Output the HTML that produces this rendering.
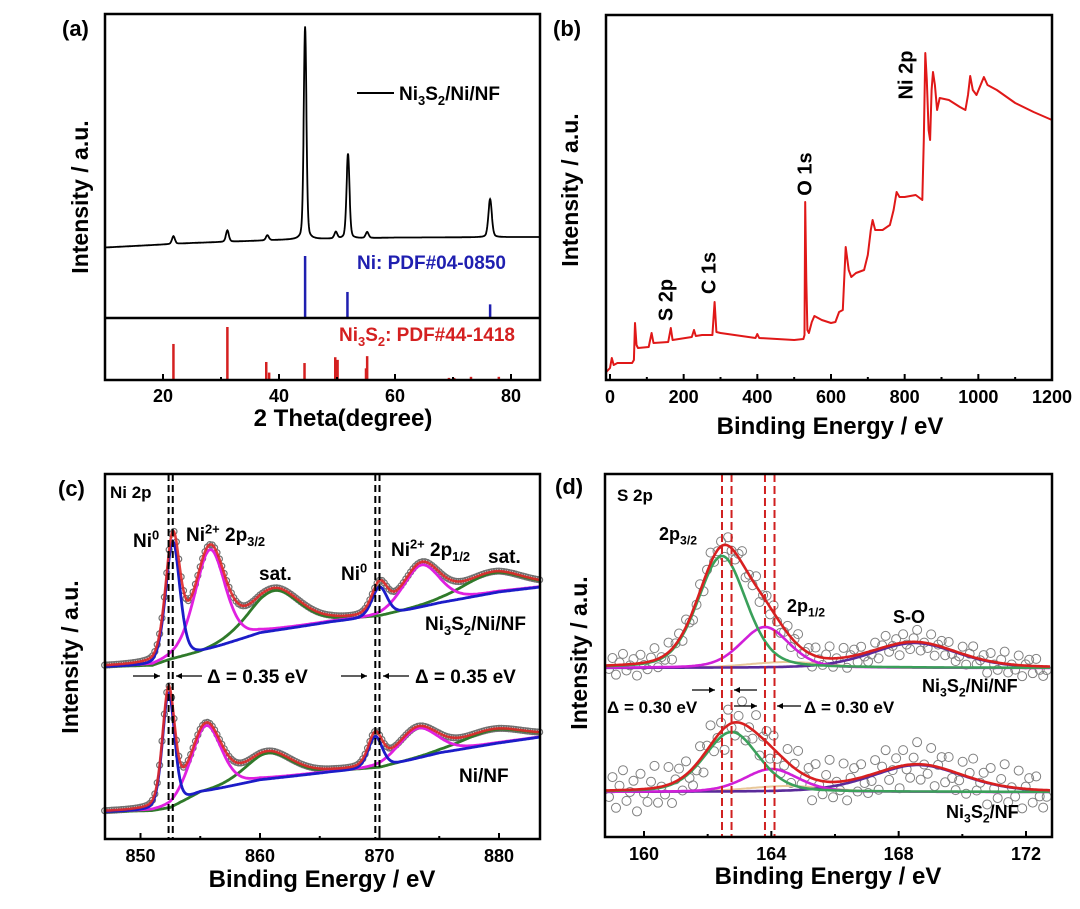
<!DOCTYPE html>
<html><head><meta charset="utf-8">
<style>
html,body{margin:0;padding:0;background:#fff;}
svg{display:block;font-family:"Liberation Sans",Arial,sans-serif;font-weight:bold;}
</style></head>
<body>
<svg id="fig" width="1080" height="909" viewBox="0 0 1080 909" xmlns="http://www.w3.org/2000/svg"></svg>
<script>
// ---------- Panel (a) XRD data ----------
const xrdBgX = [10, 25, 40, 60, 85];
const xrdBgV = [23.5, 25, 26, 26.8, 27];
const xrdPeakPos = [21.8, 31.1, 38.0, 44.5, 49.8, 51.9, 55.2, 76.4];
const xrdPeakInt = [2.6, 3.8, 1.7, 71, 2.2, 28.3, 2.0, 12.7];
const xrdPeakW = [0.6, 0.6, 0.6, 0.55, 0.6, 0.6, 0.6, 0.7];
const niRefPos = [44.5, 51.8, 76.4];
const niRefInt = [100, 42, 22];
const ni3s2RefPos = [21.8, 31.1, 37.8, 38.3, 44.4, 49.7, 50.1, 55.0, 55.2, 69.3, 70.2, 73.1, 77.9];
const ni3s2RefInt = [68, 100, 34, 14, 32, 43, 38, 22, 45, 4, 4, 6, 6];
const aTicks = [20, 40, 60, 80];

// ---------- Panel (b) XPS survey ----------
const surveyE = [-10,0,5,10,20,60,65,68,72,76,105,113,118,158,165,170,222,228,233,250,278,284,289,300,395,400,405,500,525,528,530,533,536,540,548,555,575,600,612,622,632,640,648,655,668,690,700,708,713,720,740,760,770,778,786,800,830,848,852,856,860,865,869,873,877,882,888,895,920,950,965,972,978,985,995,1015,1025,1050,1100,1150,1200];
const surveyI = [8,12,22,15,17,17,20,57,35,32,33,47,37,38,52,40,43,50,44,45,45,78,48,47,42,46,42,40,41,45,178,100,50,47,58,64,60,57,58,68,70,133,110,103,107,110,125,150,160,150,150,155,170,188,183,183,185,180,240,327,300,250,240,290,308,295,270,282,280,273,270,285,304,290,285,303,295,290,277,268,260];
const bTicks = [0, 200, 400, 600, 800, 1000, 1200];

// ---------- Panel (c) Ni 2p ----------
const cBgE = [847, 851, 852.5, 855, 860, 866, 870, 875, 880, 883.5];
const cTopBg = [172, 173, 179, 186, 206, 217, 222, 236, 247, 252];
const cBotBg = [27, 28, 31, 46, 59, 67, 71, 86, 96, 102];
const cPeakKind = ["ni0", "ni2", "sat", "ni0", "ni2", "sat"];
const cTopCenter = [852.7, 855.8, 861.2, 870.0, 873.5, 879.5];
const cTopHeight = [118, 100, 40, 30, 42, 20];
const cTopWidth = [1.4, 3.0, 5.0, 1.5, 3.6, 6.0];
const cBotCenter = [852.35, 855.5, 860.7, 869.65, 873.2, 879.5];
const cBotHeight = [116, 66, 26, 32, 30, 14];
const cBotWidth = [1.2, 3.0, 4.6, 1.4, 3.8, 6.0];
const cDashE = [852.35, 852.7, 869.65, 870.0];
const cTicks = [850, 860, 870, 880];

// ---------- Panel (d) S 2p ----------
const dKind = ["p32", "p12", "so"];
const dTopBase = 169;
const dTopCenter = [162.45, 163.8, 168.5];
const dTopHeight = [112, 41, 25];
const dTopWidth = [1.8, 1.8, 3.2];
const dBotBase = 45;
const dBotCenter = [162.75, 164.0, 168.6];
const dBotHeight = [60, 23, 27];
const dBotWidth = [2.0, 2.0, 3.4];
const dScatter = [3,-6,8,-2,-9,5,1,-4,10,-7,2,6,-3,-10,7,0,4,-8,9,-1,-5,6,-6,3,8];
const dDashE = [162.45, 162.75, 163.8, 164.1];
const dTicks = [160, 164, 168, 172];

// ---------- helpers ----------
const NS = "http://www.w3.org/2000/svg";
const fig = document.getElementById("fig");
function mk(tag, attrs, parent) {
  const el = document.createElementNS(NS, tag);
  for (const k in attrs) el.setAttribute(k, attrs[k]);
  (parent || fig).appendChild(el);
  return el;
}
function lin(d0, d1, r0, r1) { return v => r0 + (v - d0) * (r1 - r0) / (d1 - d0); }
function interp(xs, ys, x) {
  if (x <= xs[0]) return ys[0];
  for (let i = 1; i < xs.length; i++) if (x <= xs[i]) return ys[i-1] + (ys[i]-ys[i-1])*(x-xs[i-1])/(xs[i]-xs[i-1]);
  return ys[ys.length-1];
}
function pv(x, c, h, w) {
  const t = (x - c) / w;
  return h * (0.7 * Math.exp(-4 * Math.LN2 * t * t) + 0.3 / (1 + 4 * t * t));
}
function pathFrom(pts) { return "M" + pts.map(p => p[0].toFixed(1) + "," + p[1].toFixed(1)).join("L"); }
function text(str, x, y, size, attrs, parent) {
  const t = mk("text", Object.assign({x: x, y: y, "font-size": size}, attrs || {}), parent);
  t.textContent = str;
  return t;
}
function richText(parts, x, y, size, attrs, parent) {
  const t = mk("text", Object.assign({x: x, y: y, "font-size": size}, attrs || {}), parent);
  parts.forEach(p => {
    const s = document.createElementNS(NS, "tspan");
    s.textContent = p[0];
    if (p[1] === "sub") { s.setAttribute("font-size", size * 0.68); s.setAttribute("dy", size * 0.25); }
    else if (p[1] === "sup") { s.setAttribute("font-size", size * 0.68); s.setAttribute("dy", -size * 0.4); }
    else if (p[1] === "subend") { s.setAttribute("dy", -size * 0.25); }
    else if (p[1] === "supend") { s.setAttribute("dy", size * 0.4); }
    t.appendChild(s);
  });
  return t;
}
function frame(x0, y0, x1, y1, name) {
  const r = mk("rect", {x: x0, y: y0, width: x1 - x0, height: y1 - y0, fill: "none", stroke: "#000", "stroke-width": 2.5});
  
  
}
function xTicks(ticks, minorStep, xs, yb, prefix, xmin, xmax, labelY) {
  const g = mk("g", {});
  
  
  for (let v = Math.ceil(xmin / minorStep) * minorStep; v <= xmax; v += minorStep) {
    const major = ticks.indexOf(Math.round(v * 100) / 100) >= 0;
    const l = mk("line", {x1: xs(v), x2: xs(v), y1: yb, y2: yb - (major ? 6 : 3), stroke: "#000", "stroke-width": 2}, g);
    
    
  }
  ticks.forEach(v => {
    const t = text(String(v), xs(v), labelY, 18, {"text-anchor": "middle"}, g);
    
    
  });
}
function yTitle(x, y, name) {
  const t = text("Intensity / a.u.", x, y, 23, {"text-anchor": "middle", transform: "rotate(-90 " + x + " " + y + ")", "dominant-baseline": "middle"});
  
  
}

// ================= Panel (a) =================
(function () {
  const X0 = 105, X1 = 540, Y0 = 14, YD = 318, Y1 = 380;
  const xs = lin(10, 85, X0, X1);
  const ysTop = lin(0, 100, YD, YD - 300);
  const ysNi = lin(0, 100, YD, YD - 62);
  const ysNs = lin(0, 100, Y1, Y1 - 53);
  const pts = [];
  for (let x = 10; x <= 85; x += 0.05) {
    let v = interp(xrdBgX, xrdBgV, x);
    for (let i = 0; i < xrdPeakPos.length; i++) v += pv(x, xrdPeakPos[i], xrdPeakInt[i], xrdPeakW[i]);
    pts.push([xs(x), ysTop(v)]);
  }
  const p = mk("path", {d: pathFrom(pts), fill: "none", stroke: "#000", "stroke-width": 1.8});
  
  
  niRefPos.forEach((x, i) => {
    const l = mk("line", {x1: xs(x), x2: xs(x), y1: YD, y2: ysNi(niRefInt[i]), stroke: "#1f1fb0", "stroke-width": 2.5});
    
    
  });
  ni3s2RefPos.forEach((x, i) => {
    const l = mk("line", {x1: xs(x), x2: xs(x), y1: Y1, y2: ysNs(ni3s2RefInt[i]), stroke: "#d42020", "stroke-width": 2.5});
    
    
  });
  const dv = mk("line", {x1: X0, x2: X1, y1: YD, y2: YD, stroke: "#000", "stroke-width": 2.5});
  
  
  frame(X0, Y0, X1, Y1, "panel-a-frame");
  xTicks(aTicks, 10, xs, Y1, "panel-a", 10, 85, 402);
  const ll = mk("line", {x1: 357, x2: 394, y1: 93, y2: 93, stroke: "#000", "stroke-width": 2});
  
  
  const lt = richText([["Ni"], ["3", "sub"], ["S", "subend"], ["2", "sub"], ["/Ni/NF", "subend"]], 399, 100, 19, {});
  
  
  const nl = text("Ni: PDF#04-0850", 357, 269, 19, {fill: "#1f1fb0"});
  
  
  const sl = richText([["Ni"], ["3", "sub"], ["S", "subend"], ["2", "sub"], [": PDF#44-1418", "subend"]], 339, 341, 19, {fill: "#d42020"});
  
  
  const pa = text("(a)", 62, 36, 22, {});
  
  
  yTitle(82, 197, "panel-a-y-title");
  const xt = text("2 Theta(degree)", 343, 426, 24, {"text-anchor": "middle"});
  
  
})();

// ================= Panel (b) =================
(function () {
  const X0 = 606, X1 = 1052, Y0 = 15, Y1 = 380;
  const xs = lin(0, 1200, 610, 1052);
  const ys = lin(0, 365, Y1, Y0);
  const pts = surveyE.map((e, i) => [xs(e), ys(surveyI[i])]);
  const p = mk("path", {d: pathFrom(pts), fill: "none", stroke: "#e01818", "stroke-width": 2, "stroke-linejoin": "round"});
  
  
  frame(X0, Y0, X1, Y1, "panel-b-frame");
  xTicks(bTicks, 100, xs, Y1, "panel-b", -10, 1200, 403);
  const labs = [["S 2p", 667, 300], ["C 1s", 710, 273], ["O 1s", 806, 174], ["Ni 2p", 907, 75]];
  labs.forEach(l => {
    const t = text(l[0], l[1], l[2], 20, {"text-anchor": "middle", "dominant-baseline": "middle", transform: "rotate(-90 " + l[1] + " " + l[2] + ")"});
    
    
  });
  const pb = text("(b)", 553, 36, 22, {});
  
  
  yTitle(572, 190, "panel-b-y-title");
  const xt = text("Binding Energy / eV", 830, 434, 24, {"text-anchor": "middle"});
  
  
})();

// ================= Panel (c) =================
(function () {
  const X0 = 105, X1 = 540, Y0 = 474, Y1 = 839;
  const xs = lin(850, 880, 140.5, 499);
  const ys = lin(0, 365, Y1, Y0);
  const colors = {ni0: "#1c1cc8", ni2: "#e020e0", sat: "#2f7a2a"};
  function spectrum(bg, cen, hei, wid, tag) {
    const E = [];
    for (let x = 847; x <= 883.5; x += 0.1) E.push(x);
    const env = E.map(x => {
      let v = interp(cBgE, bg, x);
      for (let i = 0; i < cen.length; i++) v += pv(x, cen[i], hei[i], wid[i]);
      return [xs(x), ys(v)];
    });
    const g = mk("g", {});
    
    
    for (let i = 0; i < env.length; i += 2) {
      const c = mk("circle", {cx: env[i][0], cy: env[i][1], r: 3, fill: "none", stroke: "#707070", "stroke-width": 1.2}, g);
      
      
    }
    ["sat", "ni2", "ni0"].forEach(k => {
      const pts = E.map(x => {
        let v = interp(cBgE, bg, x);
        for (let i = 0; i < cen.length; i++) if (cPeakKind[i] === k) v += pv(x, cen[i], hei[i], wid[i]);
        return [xs(x), ys(v)];
      });
      const p = mk("path", {d: pathFrom(pts), fill: "none", stroke: colors[k], "stroke-width": 2.8});
      
      
    });
    const r = mk("path", {d: pathFrom(env), fill: "none", stroke: "#e02828", "stroke-width": 2.6, "stroke-opacity": 0.9});
    
    
  }
  spectrum(cTopBg, cTopCenter, cTopHeight, cTopWidth, "ni3s2-ni-nf");
  spectrum(cBotBg, cBotCenter, cBotHeight, cBotWidth, "ni-nf");
  cDashE.forEach(e => {
    const l = mk("line", {x1: xs(e), x2: xs(e), y1: Y0, y2: Y1, stroke: "#000", "stroke-width": 2, "stroke-dasharray": "7 4"});
    
    
  });
  frame(X0, Y0, X1, Y1, "panel-c-frame");
  xTicks(cTicks, 5, xs, Y1, "panel-c", 847, 883.5, 862);
  const pc = text("(c)", 58, 496, 22, {});
  
  
  const t1 = text("Ni 2p", 110, 498, 17, {});
  
  
  const labs = [
    [[["Ni"], ["0", "sup"]], 133, 547],
    [[["Ni"], ["2+", "sup"], [" 2p", "supend"], ["3/2", "sub"]], 186, 541],
    [[["sat."]], 259, 580],
    [[["Ni"], ["0", "sup"]], 341, 580],
    [[["Ni"], ["2+", "sup"], [" 2p", "supend"], ["1/2", "sub"]], 391, 556],
    [[["sat."]], 488, 563],
    [[["Ni"], ["3", "sub"], ["S", "subend"], ["2", "sub"], ["/Ni/NF", "subend"]], 425, 630],
    [[["Ni/NF"]], 459, 782]
  ];
  labs.forEach(l => {
    const t = richText(l[0], l[1], l[2], 19, {});
    
    
  });
  const arrows = [["→", 133, 160], ["←", 176, 202], ["→", 341, 367], ["←", 383, 409]];
  arrows.forEach(a => {
    const y = 676;
    const l = mk("line", {x1: a[1], x2: a[2], y1: y, y2: y, stroke: "#000", "stroke-width": 1.3});
    
    
    const hx = a[0] === "→" ? a[2] : a[1], d = a[0] === "→" ? -6 : 6;
    const h = mk("path", {d: "M" + hx + "," + y + "l" + d + ",-3l0,6z", fill: "#000"});
    
    
  });
  [[207], [415]].forEach(p => {
    const t = text("Δ = 0.35 eV", p[0], 683, 19, {});
    
    
  });
  yTitle(72, 657, "panel-c-y-title");
  const xt = text("Binding Energy / eV", 322, 887, 24, {"text-anchor": "middle"});
  
  
})();

// ================= Panel (d) =================
(function () {
  const X0 = 605, X1 = 1052, Y0 = 474, Y1 = 837;
  const xs = lin(160, 172, 644, 1026);
  const ys = lin(0, 363, Y1, Y0);
  const colors = {p32: "#3aa05a", p12: "#d020d8", so: "#5a2a9a"};
  function spectrum(base, cen, hei, wid, tag, amp) {
    const E = [];
    for (let x = 158.8; x <= 172.8; x += 0.05) E.push(x);
    const envV = x => { let v = base; for (let i = 0; i < cen.length; i++) v += pv(x, cen[i], hei[i], wid[i]); return v; };
    const g = mk("g", {});
    
    
    let k = 0;
    for (let x = 158.9; x <= 172.7; x += 0.11) {
      const c = mk("circle", {cx: xs(x), cy: ys(envV(x)) + dScatter[k % dScatter.length] * amp, r: 4.5, fill: "none", stroke: "#808080", "stroke-width": 1}, g);
      
      
      k++;
    }
    const bl = mk("path", {d: pathFrom(E.map(x => [xs(x), ys(base + pv(x, 164.5, 6, 3))])), fill: "none", stroke: "#e8c89a", "stroke-width": 2});
    
    
    ["so", "p12", "p32"].forEach(kind => {
      const pts = E.map(x => { let v = base; for (let i = 0; i < cen.length; i++) if (dKind[i] === kind) v += pv(x, cen[i], hei[i], wid[i]); return [xs(x), ys(v)]; });
      const p = mk("path", {d: pathFrom(pts), fill: "none", stroke: colors[kind], "stroke-width": 2.6});
      
      
    });
    const r = mk("path", {d: pathFrom(E.map(x => [xs(x), ys(envV(x))])), fill: "none", stroke: "#d82020", "stroke-width": 2.6});
    
    
  }
  spectrum(dTopBase, dTopCenter, dTopHeight, dTopWidth, "ni3s2-ni-nf", 1.2);
  spectrum(dBotBase, dBotCenter, dBotHeight, dBotWidth, "ni3s2-nf", 2.2);
  dDashE.forEach(e => {
    const l = mk("line", {x1: xs(e), x2: xs(e), y1: Y0, y2: Y1, stroke: "#d02020", "stroke-width": 2, "stroke-dasharray": "8 4"});
    
    
  });
  frame(X0, Y0, X1, Y1, "panel-d-frame");
  xTicks(dTicks, 2, xs, Y1, "panel-d", 158.8, 172.8, 860);
  const pd = text("(d)", 555, 494, 22, {});
  
  
  const t1 = text("S 2p", 617, 501, 17, {});
  
  
  const labs = [
    [[["2p"], ["3/2", "sub"]], 659, 540],
    [[["2p"], ["1/2", "sub"]], 787, 612],
    [[["S-O"]], 893, 623],
    [[["Ni"], ["3", "sub"], ["S", "subend"], ["2", "sub"], ["/Ni/NF", "subend"]], 922, 692],
    [[["Ni"], ["3", "sub"], ["S", "subend"], ["2", "sub"], ["/NF", "subend"]], 946, 818]
  ];
  labs.forEach(l => {
    const t = richText(l[0], l[1], l[2], 18, {});
    
    
  });
  const arrows = [["→", 692, 715, 690], ["←", 734, 757, 690], ["→", 734, 757, 706], ["←", 777, 801, 706]];
  arrows.forEach(a => {
    const y = a[3];
    const l = mk("line", {x1: a[1], x2: a[2], y1: y, y2: y, stroke: "#000", "stroke-width": 1.3});
    
    
    const hx = a[0] === "→" ? a[2] : a[1], d = a[0] === "→" ? -6 : 6;
    const h = mk("path", {d: "M" + hx + "," + y + "l" + d + ",-3l0,6z", fill: "#000"});
    
    
  });
  [[607], [804]].forEach(p => {
    const t = text("Δ = 0.30 eV", p[0], 713, 17, {});
    
    
  });
  yTitle(581, 653, "panel-d-y-title");
  const xt = text("Binding Energy / eV", 828, 884, 24, {"text-anchor": "middle"});
  
  
})();
</script>
</body></html>
